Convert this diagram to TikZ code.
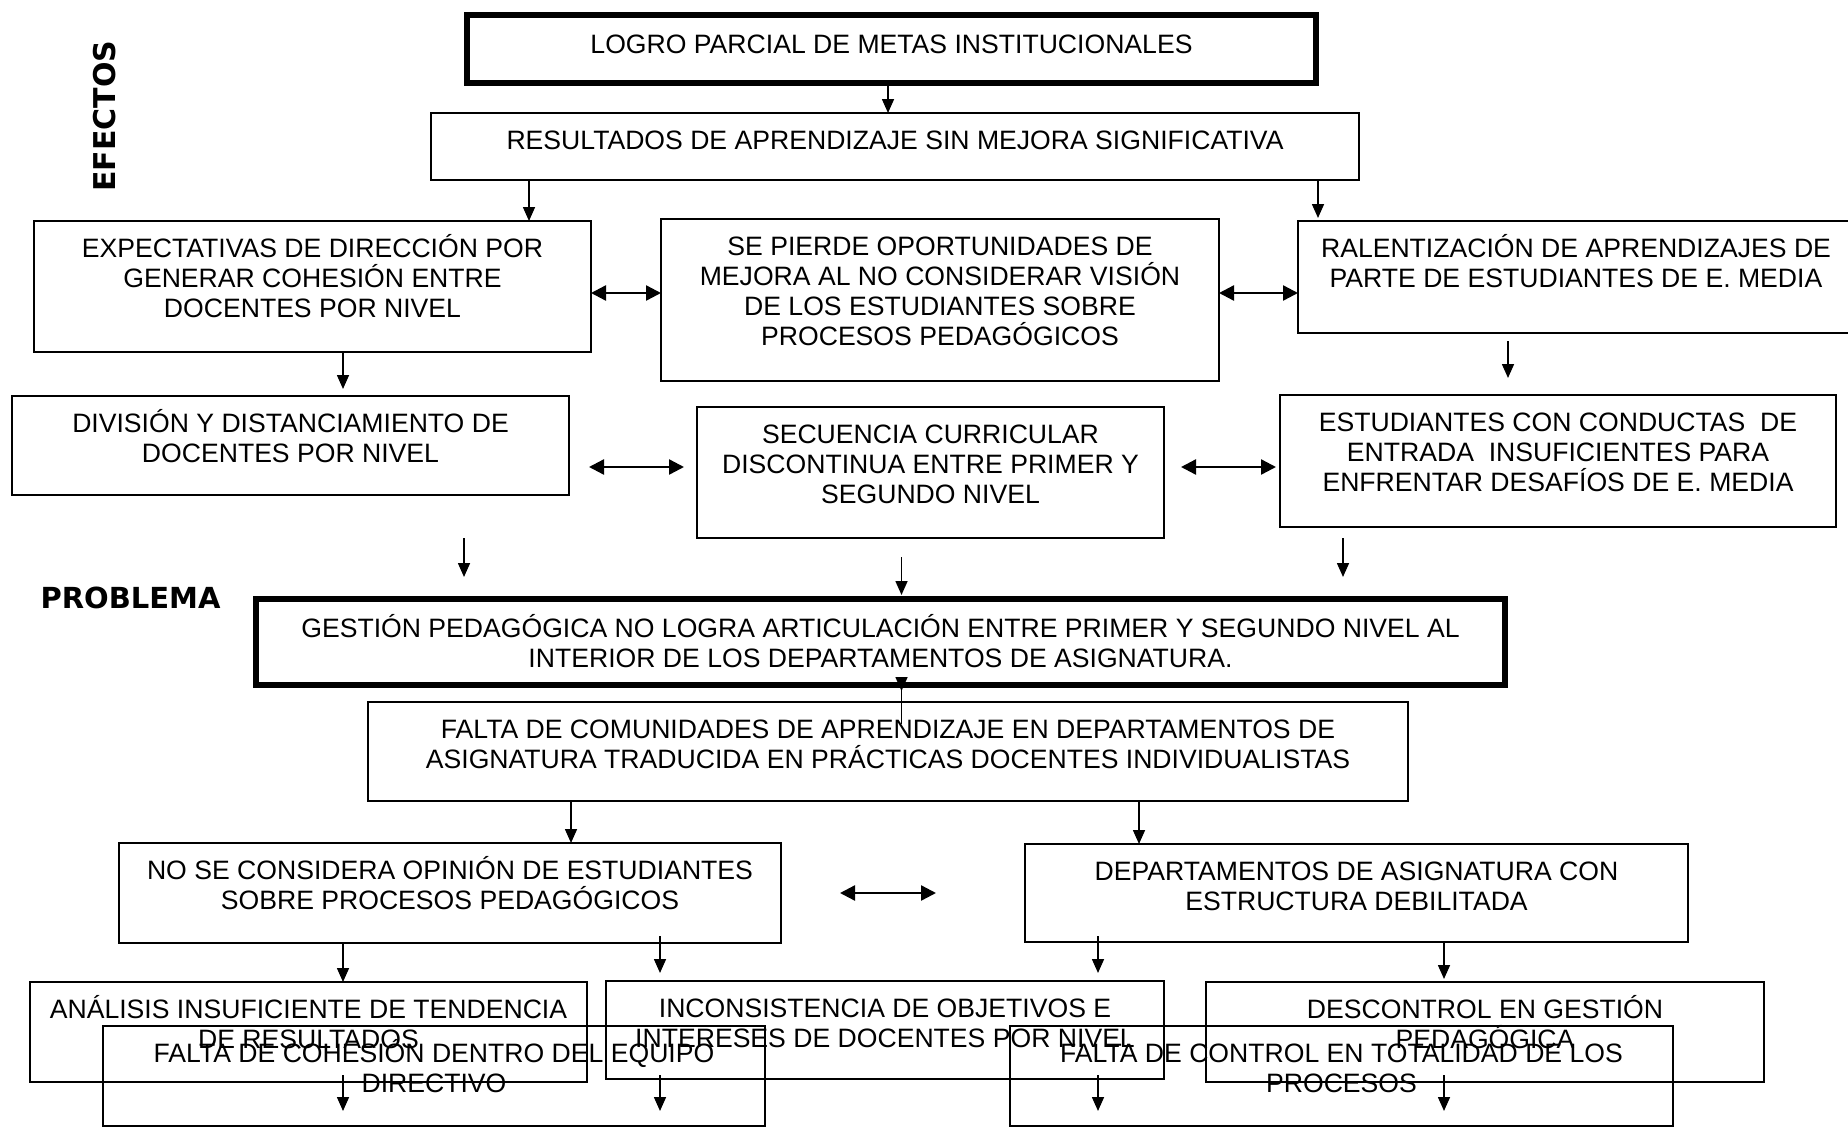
\documentclass[tikz,border=0pt]{standalone}
\usepackage{fontspec}
\setmainfont{Liberation Sans}
\newfontfamily\lblfont{DejaVu Sans}
\usetikzlibrary{arrows.meta}
\newcommand\bodyfont{\fontsize{26.6pt}{30.3pt}\selectfont}
\newcommand\tb[4][36]{\parbox[t][#3pt][t]{#2pt}{\centering\rule{0pt}{#1pt}#4}}
\begin{document}
\begin{tikzpicture}[x=1pt,y=-1pt,
  box/.style={draw, line width=2pt, inner sep=0pt, outer sep=0pt, anchor=north west, font=\bodyfont},
  thickbox/.style={box, line width=5.5pt},
  arr/.style={-{Triangle[length=14pt,width=12pt]}, line width=1.6pt},
  dbl/.style={{Triangle[length=15pt,width=15pt]}-{Triangle[length=15pt,width=15pt]}, line width=2.4pt},
  lbl/.style={font=\lblfont\bfseries\fontsize{29pt}{34pt}\selectfont, inner sep=0pt}]
\useasboundingbox (0,0) rectangle (1848,1127);
\clip (0,0) rectangle (1848,1127);

% labels
\node[lbl, rotate=90, font=\lblfont\bfseries\fontsize{30pt}{34pt}\selectfont] (efe) at (104.5,116) {EFECTOS};
\node[lbl] (prob) at (130.5,597.5) {PROBLEMA};

% boxes
\node[thickbox] (logro) at (467,15) {\tb[38]{849}{68}{LOGRO PARCIAL DE METAS INSTITUCIONALES}};
\node[box] (res) at (431,113) {\tb{928}{67}{RESULTADOS DE APRENDIZAJE SIN MEJORA SIGNIFICATIVA}};
\node[box] (exp) at (34,221) {\tb{557}{131}{EXPECTATIVAS DE DIRECCIÓN POR\\GENERAR COHESIÓN ENTRE\\DOCENTES POR NIVEL}};
\node[box] (sep) at (661,219) {\tb{558}{162}{SE PIERDE OPORTUNIDADES DE\\MEJORA AL NO CONSIDERAR VISIÓN\\DE LOS ESTUDIANTES SOBRE\\PROCESOS PEDAGÓGICOS}};
\node[box] (ral) at (1298,221) {\tb{556}{112}{RALENTIZACIÓN DE APRENDIZAJES DE\\PARTE DE ESTUDIANTES DE E. MEDIA}};
\node[box] (div) at (12,396) {\tb{557}{99}{DIVISIÓN Y DISTANCIAMIENTO DE\\DOCENTES POR NIVEL}};
\node[box] (sec) at (697,407) {\tb{467}{131}{SECUENCIA CURRICULAR\\DISCONTINUA ENTRE PRIMER Y\\SEGUNDO NIVEL}};
\node[box] (est) at (1280,395) {\tb{556}{132}{ESTUDIANTES CON CONDUCTAS\ \ DE\\ENTRADA\ \ INSUFICIENTES PARA\\ENFRENTAR DESAFÍOS DE E. MEDIA}};
\node[thickbox] (ges) at (256,599) {\tb[38]{1249}{86}{GESTIÓN PEDAGÓGICA NO LOGRA ARTICULACIÓN ENTRE PRIMER Y SEGUNDO NIVEL AL\\INTERIOR DE LOS DEPARTAMENTOS DE ASIGNATURA.}};
\node[box] (fal) at (368,702) {\tb{1040}{99}{FALTA DE COMUNIDADES DE APRENDIZAJE EN DEPARTAMENTOS DE\\ASIGNATURA TRADUCIDA EN PRÁCTICAS DOCENTES INDIVIDUALISTAS}};
\node[box] (nos) at (119,843) {\tb{662}{100}{NO SE CONSIDERA OPINIÓN DE ESTUDIANTES\\SOBRE PROCESOS PEDAGÓGICOS}};
\node[box] (dep) at (1025,844) {\tb{663}{98}{DEPARTAMENTOS DE ASIGNATURA CON\\ESTRUCTURA DEBILITADA}};
\node[box] (ana) at (30,982) {\tb{557}{100}{ANÁLISIS INSUFICIENTE DE TENDENCIA\\DE RESULTADOS}};
\node[box] (inc) at (606,981) {\tb{558}{98}{INCONSISTENCIA DE OBJETIVOS E\\INTERESES DE DOCENTES POR NIVEL}};
\node[box] (des) at (1206,982) {\tb{558}{100}{DESCONTROL EN GESTIÓN\\PEDAGÓGICA}};
\node[box] (coh) at (103,1026) {\tb{662}{100}{FALTA DE COHESIÓN DENTRO DEL EQUIPO\\DIRECTIVO}};
\node[box] (con) at (1010,1026) {\tb{663}{100}{FALTA DE CONTROL EN TOTALIDAD DE LOS\\PROCESOS}};

% columns and rows for connectors
\coordinate (c1) at (888,0);
\coordinate (c2) at (529,0);
\coordinate (c3) at (1318,0);
\coordinate (c4) at (343,0);
\coordinate (c5) at (1508,0);
\coordinate (c6) at (464,0);
\coordinate (c7) at (901.5,0);
\coordinate (c8) at (1343,0);
\coordinate (c9) at (571,0);
\coordinate (c10) at (1139,0);
\coordinate (c11) at (660,0);
\coordinate (c12) at (1098,0);
\coordinate (c13) at (1444,0);
\coordinate (r1) at (0,293);
\coordinate (r2) at (0,467);
\coordinate (r3) at (0,893);

% arrows
\draw[arr] (logro.south -| c1) -- (res.north -| c1);
\draw[arr] (res.south -| c2) -- (exp.north -| c2);
\draw[arr, shorten >=3pt] (res.south -| c3) -- (ral.north -| c3);
\draw[arr, shorten >=7pt] (exp.south -| c4) -- (div.north -| c4);
\draw[arr, shorten <=8pt, shorten >=17pt] (ral.south -| c5) -- (est.north -| c5);
\draw[arr, shorten <=43pt, shorten >=22pt] (div.south -| c6) -- (ges.north -| c6);
\draw[arr, shorten <=19pt, shorten >=4pt] (sec.south -| c7) -- (ges.north -| c7);
\draw[arr, shorten <=11pt, shorten >=22pt] (est.south -| c8) -- (ges.north -| c8);
\draw[arr, shorten <=-39pt, shorten >=11pt] (ges.south -| c7) -- (fal.north -| c7);
\draw[arr] (fal.south -| c9) -- (nos.north -| c9);
\draw[arr] (fal.south -| c10) -- (dep.north -| c10);
\draw[arr] (nos.south -| c4) -- (ana.north -| c4);
\draw[arr, shorten <=-7pt, shorten >=8pt] (nos.south -| c11) -- (inc.north -| c11);
\draw[arr, shorten <=-6pt, shorten >=8pt] (dep.south -| c12) -- (inc.north -| c12);
\draw[arr, shorten >=3pt] (dep.south -| c13) -- (des.north -| c13);
\draw[arr, shorten <=-7pt, shorten >=15pt] (ana.south -| c4) -- (coh.south -| c4);
\draw[arr, shorten <=-4pt, shorten >=15pt] (inc.south -| c11) -- (coh.south -| c11);
\draw[arr, shorten <=-4pt, shorten >=15pt] (inc.south -| c12) -- (con.south -| c12);
\draw[arr, shorten <=-7pt, shorten >=15pt] (des.south -| c13) -- (con.south -| c13);

% double arrows
\draw[dbl] (exp.east |- r1) -- (sep.west |- r1);
\draw[dbl] (sep.east |- r1) -- (ral.west |- r1);
\draw[dbl, shorten <=20pt, shorten >=13pt] (div.east |- r2) -- (sec.west |- r2);
\draw[dbl, shorten <=17pt, shorten >=4pt] (sec.east |- r2) -- (est.west |- r2);
\draw[dbl, shorten <=59pt, shorten >=89pt] (nos.east |- r3) -- (dep.west |- r3);
\end{tikzpicture}
\end{document}
